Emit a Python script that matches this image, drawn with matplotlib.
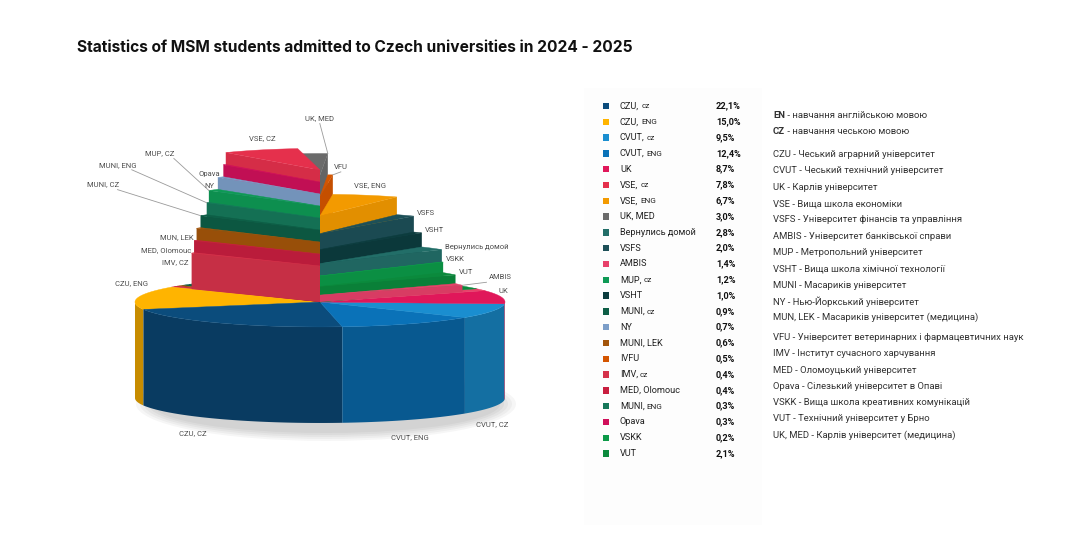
import numpy as np
import matplotlib.pyplot as plt
from matplotlib.patches import Polygon, Rectangle, Ellipse
from matplotlib.colors import to_rgb

# legend order
categories = ['CZU, cz', 'CZU, ENG', 'CVUT, cz', 'CVUT, ENG', 'UK', 'VSE, cz', 'VSE, ENG',
              'UK, MED', 'Вернулись домой', 'VSFS', 'AMBIS', 'MUP, cz', 'VSHT', 'MUNI, cz',
              'NY', 'MUNI, LEK', 'IVFU', 'IMV, cz', 'MED, Olomouc', 'MUNI, ENG', 'Opava',
              'VSKK', 'VUT']
shares = [22.1, 15.0, 9.5, 12.4, 8.7, 7.8, 6.7, 3.0, 2.8, 2.0, 1.4, 1.2, 1.0, 0.9,
          0.7, 0.6, 0.5, 0.4, 0.4, 0.3, 0.3, 0.2, 2.1]
pie_labels = ['CZU, CZ', 'CZU, ENG', 'CVUT, CZ', 'CVUT, ENG', 'UK', 'VSE, CZ', 'VSE, ENG',
              'UK, MED', 'Вернулись домой', 'VSFS', 'AMBIS', 'MUP, CZ', 'VSHT', 'MUNI, CZ',
              'NY', 'MUN, LEK', 'VFU', 'IMV, CZ', 'MED, Olomouc', 'MUNI, ENG', 'Opava',
              'VSKK', 'VUT']
colors = ['#0b4c7c', '#ffb400', '#1a8ed0', '#0a72b8', '#e0175a', '#e5304c', '#f39a00',
          '#6b6b6b', '#226e68', '#1d5058', '#e8416a', '#0e9a55', '#0c3c3e', '#0d5e46',
          '#7c9ec8', '#a3550a', '#d45500', '#d5324a', '#c81e3f', '#16785a', '#d0105a',
          '#0c9a48', '#0b8a3c']

# order of the slices round the pie, counter-clockwise from the back
pie_order = ['VSE, cz', 'Opava', 'NY', 'MUP, cz', 'MUNI, ENG', 'MUNI, cz', 'MUNI, LEK',
             'MED, Olomouc', 'IMV, cz', 'CZU, ENG', 'CZU, cz', 'CVUT, ENG', 'CVUT, cz',
             'UK', 'AMBIS', 'VUT', 'VSKK', 'Вернулись домой', 'VSHT', 'VSFS', 'VSE, ENG',
             'IVFU', 'UK, MED']
base_slices = ['CZU, ENG', 'CZU, cz', 'CVUT, ENG', 'CVUT, cz', 'UK']

glossary_bold = [('EN', ' - навчання англійською мовою'),
                 ('CZ', ' - навчання чеською мовою')]
glossary = ['CZU - Чеський аграрний університет',
            'CVUT - Чеський технічний університет',
            'UK - Карлів університет',
            'VSE - Вища школа економіки',
            'VSFS - Університет фінансів та управління',
            'AMBIS - Університет банківської справи',
            'MUP - Метропольний університет',
            'VSHT - Вища школа хімічної технології',
            'MUNI - Масариків університет',
            'NY - Нью-Йоркський університет',
            'MUN, LEK - Масариків університет (медицина)',
            'VFU - Університет ветеринарних і фармацевтичних наук',
            'IMV - Інститут сучасного харчування',
            'MED - Оломоуцький університет',
            'Opava - Сілезький університет в Опаві',
            'VSKK - Вища школа креативних комунікацій',
            'VUT - Технічний університет у Брно',
            'UK, MED - Карлів університет (медицина)']

# pie geometry (pixel units)
CX, CY = 320, 302
R_BASE, R_STEP = 185, 160
TILT = 0.135
BASE_H = 96
START = 98

# label tweaks: dx, dy, leader line
label_moves = {'MUP, cz': (-49, -37, True), 'MUNI, ENG': (-89, -38, True),
               'MUNI, cz': (-97, -31, True), 'UK, MED': (-8, -35, True),
               'IVFU': (8, -8, True), 'AMBIS': (38, -8, True),
               'VSE, cz': (37, -14, False), 'VSE, ENG': (-27, -12, False),
               'UK': (2, -6, False), 'CZU, ENG': (-6, -15, False),
               'CZU, cz': (-27, 14, False)}


def shade(c, f):
    r, g, b = to_rgb(c)
    return (min(r * f, 1), min(g * f, 1), min(b * f, 1))


def proj(theta, r, z):
    t = np.radians(theta)
    return CX + r * np.cos(t), CY - TILT * r * np.sin(t) - z


def arc(a1, a2, r, z):
    n = max(2, int(abs(a2 - a1)) + 2)
    return [proj(t, r, z) for t in np.linspace(a1, a2, n)]


fig = plt.figure(figsize=(10.77, 5.38), dpi=100)
ax = fig.add_axes([0, 0, 1, 1])
ax.set_xlim(0, 1077)
ax.set_ylim(538, 0)
ax.axis('off')
renderer = fig.canvas.get_renderer()

fig.text(77 / 1077, 1 - 47 / 538, 'Statistics of MSM students admitted to Czech universities in 2024 - 2025',
         family='Inter', fontweight='bold', fontsize=11.2, va='center', color='#111111')

# angles of each slice
color_of = dict(zip(categories, colors))
label_of = dict(zip(categories, pie_labels))
share_of = dict(zip(categories, shares))
angles = {}
a = START
for name in pie_order:
    angles[name] = (a, a + share_of[name] * 3.6)
    a += share_of[name] * 3.6

# soft shadow under the base
for i in range(5):
    ax.add_patch(Ellipse((CX + 6, CY + BASE_H + 6), 2 * R_BASE + 10 - 8 * i,
                         2 * TILT * R_BASE + 24 - 4 * i, color='black', alpha=0.035, lw=0))

# base cylinder, front side
for name in base_slices:
    a1, a2 = angles[name]
    a1n = a1 % 360
    a2n = a1n + (a2 - a1)
    lo, hi = max(a1n, 180), min(a2n, 360)
    if hi > lo:
        pts = arc(lo, hi, R_BASE, 0) + arc(hi, lo, R_BASE, -BASE_H)
        ax.add_patch(Polygon(pts, closed=True, fc=shade(color_of[name], 0.78), ec='none'))

# base top
for name in pie_order:
    a1, a2 = angles[name]
    pts = [proj(0, 0, 0)] + arc(a1, a2, R_BASE, 0)
    ax.add_patch(Polygon(pts, closed=True, fc=color_of[name], ec=color_of[name], lw=0.3))

# stair slices: rising from both sides of the base towards the back
first_base = min(pie_order.index(b) for b in base_slices)
last_base = max(pie_order.index(b) for b in base_slices)
left = pie_order[:first_base][::-1]
right = pie_order[last_base + 1:]
steps = left + right
mid = {n: np.radians(sum(angles[n]) / 2) for n in steps}
height, face = {}, {}
for i, n in enumerate(left):
    height[n] = 12 * (i + 3)
    face[n] = angles[n][1]
for i, n in enumerate(right):
    r = i + 1
    height[n] = 6 * r + 0.9 * r * r
    face[n] = angles[n][0]

for n in sorted(steps, key=lambda n: -np.sin(mid[n])):
    h = height[n]
    f = face[n]
    pts = [proj(f, 0, 0), proj(f, 0, h), proj(f, R_STEP, h), proj(f, R_STEP, 0)]
    ax.add_patch(Polygon(pts, closed=True, fc=shade(color_of[n], 0.93), ec='none'))
    a1, a2 = angles[n]
    top = [proj(0, 0, h)] + arc(a1, a2, R_STEP, h)
    ax.add_patch(Polygon(top, closed=True, fc=color_of[n], ec=color_of[n], lw=0.3))

# pie labels
lab_kw = dict(family='Roboto', fontsize=5.5, color='#4d4d4d', va='center')
for n in steps:
    x, y = proj(face[n], R_STEP, height[n])
    if n in left:
        tx, ty, ha = x - 3, y + 9, 'right'
    else:
        tx, ty, ha = x + 3, y - 3, 'left'
    if n in label_moves:
        dx, dy, leader = label_moves[n]
        tx, ty = x + dx, y + dy
        ha = 'center'
        if leader:
            if dx < -40:
                sx = tx + 14
            elif dx > 20:
                sx = tx - 14
            else:
                sx = tx
            ax.plot([sx, x], [ty + 5, y], color='#9a9a9a', lw=0.6)
    ax.text(tx, ty, label_of[n], ha=ha, **lab_kw)

for n in base_slices:
    m = sum(angles[n]) / 2
    if np.sin(np.radians(m)) > 0:
        x, y = proj(m, R_BASE, 0)
        dx, dy = 0, -12
    else:
        x, y = proj(m, R_BASE, -BASE_H)
        dx, dy = 0, 17
    if n in label_moves:
        dx, dy = label_moves[n][:2]
    ax.text(x + dx, y + dy, label_of[n], ha='center', **lab_kw)

# legend panel
ax.add_patch(Rectangle((584, 88), 178, 437, fc='#fdfdfd', ec='none', zorder=0))
for i, (name, v, c) in enumerate(zip(categories, shares, colors)):
    y = 106 + i * 15.8
    yb = y + 2.4
    ax.add_patch(Rectangle((603, y - 3.2), 6.4, 6.4, fc=c, ec='none'))
    parts = name.rsplit(' ', 1)
    if len(parts) == 2 and parts[1] in ('cz', 'ENG'):
        t = ax.text(620, yb, parts[0], family='Roboto', fontsize=6.6, color='#222222', va='baseline')
        bb = t.get_window_extent(renderer=renderer)
        x2 = ax.transData.inverted().transform((bb.x1, bb.y0))[0]
        ax.text(x2 + 2, yb, parts[1], family='Roboto', fontsize=5.9, color='#222222', va='baseline')
    else:
        ax.text(620, yb, name, family='Roboto', fontsize=6.6, color='#222222', va='baseline')
    ax.text(716, yb, f'{v:.1f}%'.replace('.', ','), family='Roboto', fontweight='bold',
            fontsize=6.6, color='#111111', va='baseline')

# glossary
gl_kw = dict(family='Roboto', fontsize=6.8, color='#333333', va='center')
y = 115
for b, rest in glossary_bold:
    t = ax.text(773, y, b, fontweight='bold', **gl_kw)
    bb = t.get_window_extent(renderer=renderer)
    x2 = ax.transData.inverted().transform((bb.x1, bb.y0))[0]
    ax.text(x2, y, rest, **gl_kw)
    y += 16.8
y += 6
for line in glossary:
    ax.text(773, y, line, **gl_kw)
    y += 16.3
    if line.startswith('MUN, LEK'):
        y += 3.5

fig.savefig('out.png', dpi=100, facecolor='white')
